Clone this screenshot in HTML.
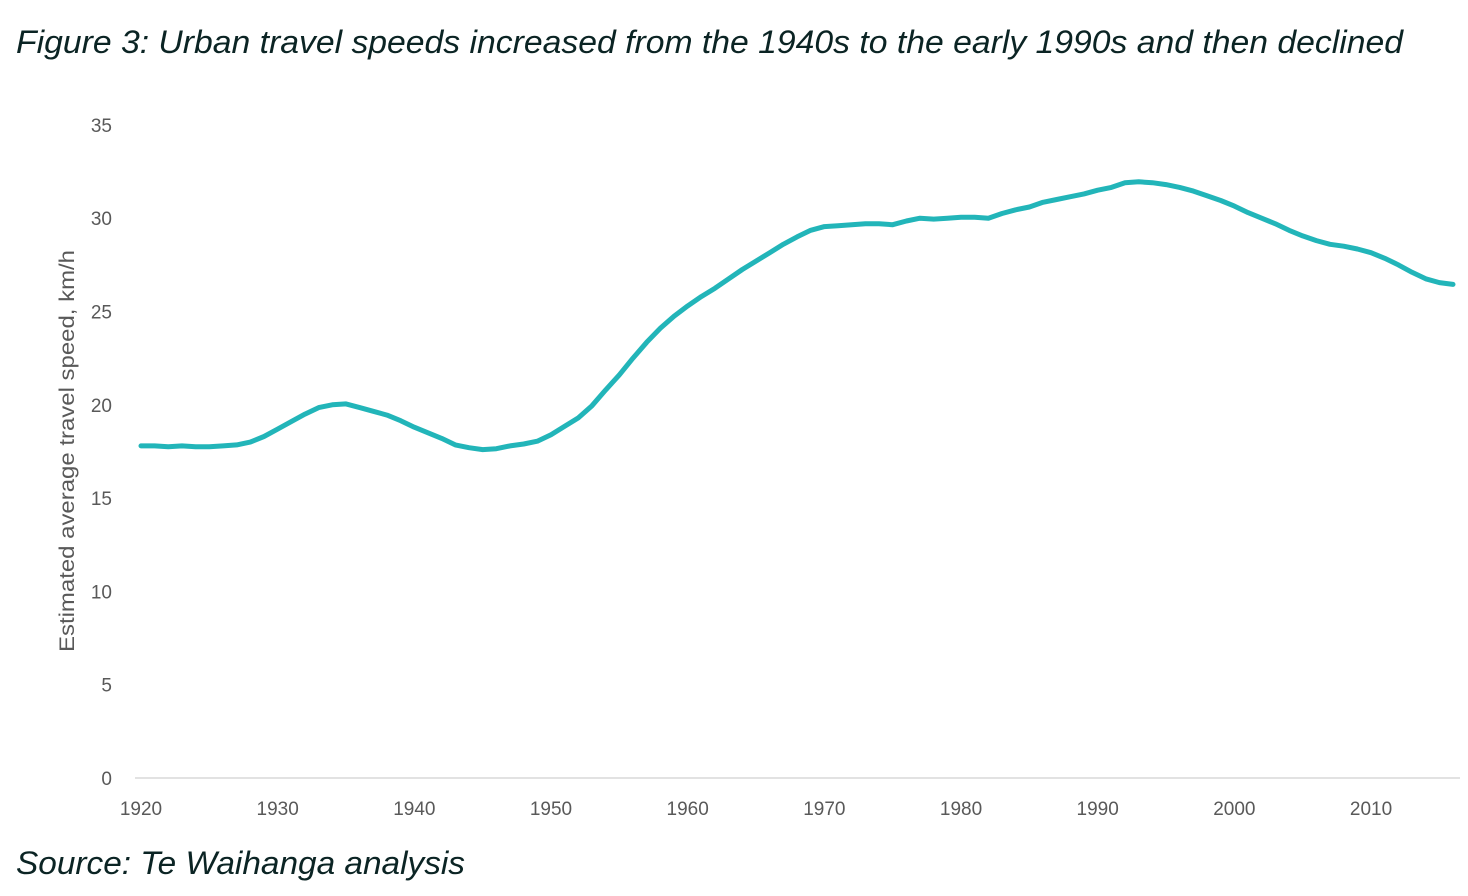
<!DOCTYPE html>
<html><head><meta charset="utf-8"><style>
html,body{margin:0;padding:0;background:#fff;width:1468px;height:896px;overflow:hidden}
text{font-family:"Liberation Sans",sans-serif}
</style></head><body>
<svg width="1468" height="896">
<text x="16" y="53" font-size="32" font-style="italic" fill="#0b2424" textLength="1387" lengthAdjust="spacingAndGlyphs">Figure 3: Urban travel speeds increased from the 1940s to the early 1990s and then declined</text>
<text x="16" y="874" font-size="32" font-style="italic" fill="#0b2424" textLength="449" lengthAdjust="spacingAndGlyphs">Source: Te Waihanga analysis</text>
<text transform="translate(74,451) rotate(-90)" text-anchor="middle" font-size="21" fill="#595959" textLength="402" lengthAdjust="spacingAndGlyphs">Estimated average travel speed, km/h</text>
<g id="yt"></g><g id="xt"></g>
<line x1="135" y1="778" x2="1460" y2="778" stroke="#d9d9d9" stroke-width="1.5"/>
<path id="ln" fill="none" stroke="#22b5b9" stroke-width="5" stroke-linejoin="round" stroke-linecap="round"/>
</svg>
<script>
const years=[];for(let y=1920;y<=2016;y++)years.push(y);
const speeds=[17.8,17.8,17.75,17.8,17.75,17.75,17.8,17.85,18.0,18.3,18.7,19.1,19.5,19.85,20.0,20.05,19.85,19.65,19.45,19.15,18.8,18.5,18.2,17.85,17.7,17.6,17.65,17.8,17.9,18.05,18.4,18.85,19.3,19.95,20.8,21.6,22.5,23.35,24.1,24.75,25.3,25.8,26.25,26.75,27.25,27.7,28.15,28.6,29.0,29.35,29.55,29.6,29.65,29.7,29.7,29.65,29.85,30.0,29.95,30.0,30.05,30.05,30.0,30.25,30.45,30.6,30.85,31.0,31.15,31.3,31.5,31.65,31.9,31.95,31.9,31.8,31.65,31.45,31.2,30.95,30.65,30.3,30.0,29.7,29.35,29.05,28.8,28.6,28.5,28.35,28.15,27.85,27.5,27.1,26.75,26.55,26.45];
const yTicks=[0,5,10,15,20,25,30,35];
const xTicks=[1920,1930,1940,1950,1960,1970,1980,1990,2000,2010];
const X=v=>141+(v-1920)*13.667, Y=v=>778-v*18.66;
const ns="http://www.w3.org/2000/svg";
const yt=document.getElementById('yt'),xt=document.getElementById('xt');
yTicks.forEach(t=>{const e=document.createElementNS(ns,'text');e.setAttribute('x',112);e.setAttribute('y',Y(t)+7);e.setAttribute('text-anchor','end');e.setAttribute('font-size','19');e.setAttribute('fill','#595959');e.textContent=t;


yt.appendChild(e);});
xTicks.forEach(t=>{const e=document.createElementNS(ns,'text');e.setAttribute('x',X(t));e.setAttribute('y',815);e.setAttribute('text-anchor','middle');e.setAttribute('font-size','19');e.setAttribute('fill','#595959');e.textContent=t;


xt.appendChild(e);});
document.getElementById('ln').setAttribute('d',speeds.map((v,i)=>(i?'L':'M')+X(years[i]).toFixed(1)+','+Y(v).toFixed(1)).join(''));
</script>
</body></html>
